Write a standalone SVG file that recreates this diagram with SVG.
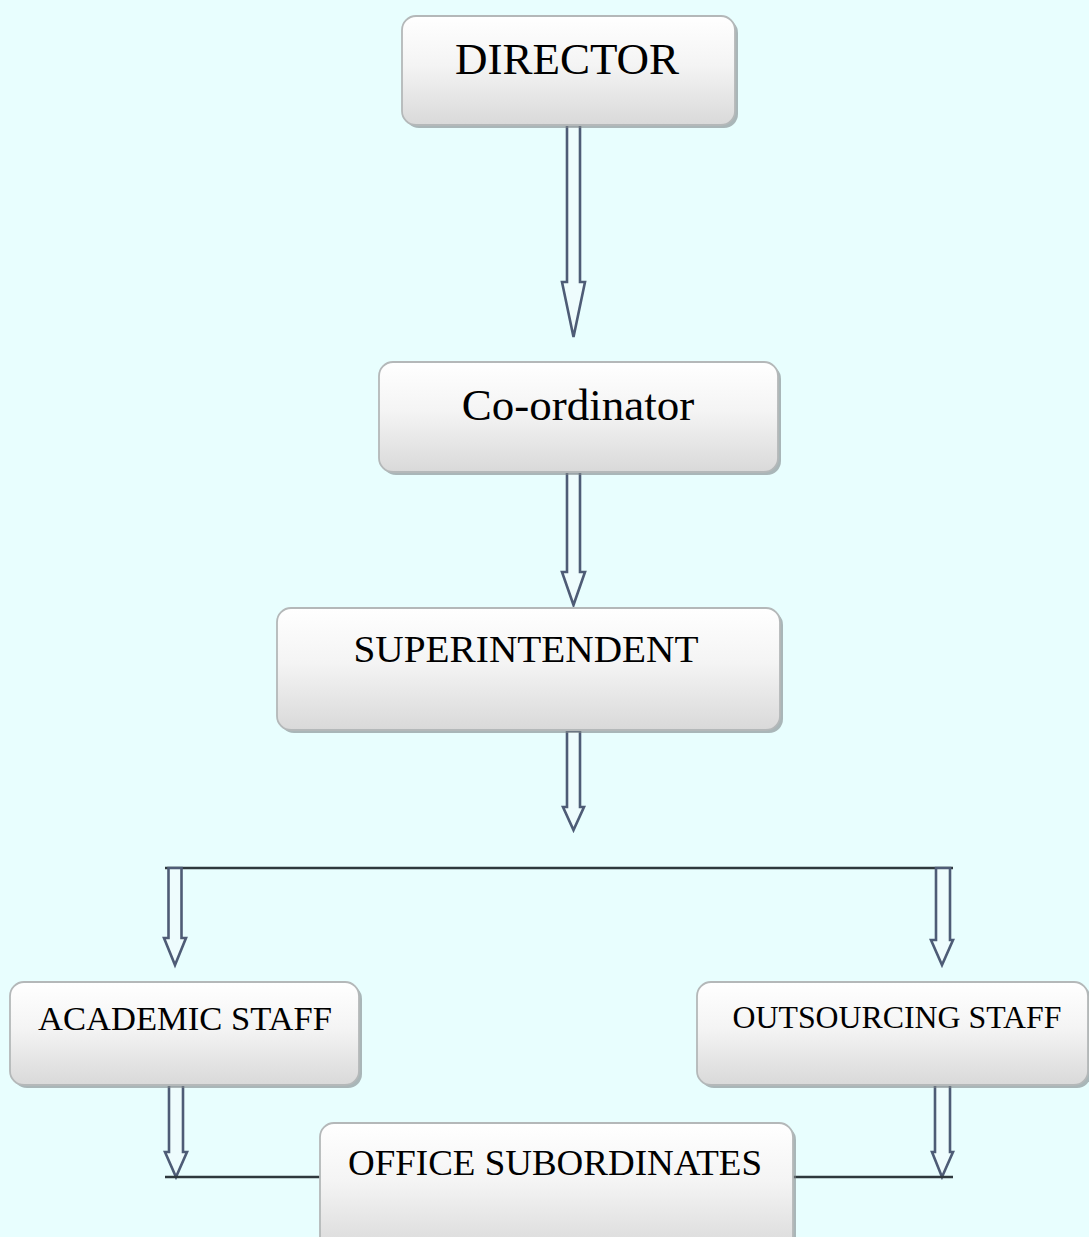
<svg xmlns="http://www.w3.org/2000/svg" width="1089" height="1237" viewBox="0 0 1089 1237">
<defs>
<linearGradient id="boxg" x1="0" y1="0" x2="0" y2="1">
<stop offset="0" stop-color="#ffffff"/>
<stop offset="0.45" stop-color="#f4f4f4"/>
<stop offset="1" stop-color="#d9d9d9"/>
</linearGradient>
<style>
.box{fill:url(#boxg);stroke:#b4b8b9;stroke-width:1.8}
.shadow{fill:#7f8688;opacity:0.6}
.lbl{font-family:"Liberation Serif","Times New Roman",serif;fill:#000;text-anchor:middle}
.arr{fill:#eefcfd;stroke:#4e5c76;stroke-width:2.6;stroke-linejoin:miter}
.ln{stroke:#2e383d;stroke-width:2.5;fill:none}
</style>
</defs>
<rect width="1089" height="1237" fill="#e8fefe"/>
<g id="connectors">
<polygon class="arr" points="567,125 580,125 580,282 585,282 573.5,337 562,282 567,282"/>
<polygon class="arr" points="567,472 580,472 580,572 585,572 573.5,605 562,572 567,572"/>
<polygon class="arr" points="567,731 580,731 580,807 584,807 573.5,830 563,807 567,807"/>
<line class="ln" x1="165" y1="868" x2="953" y2="868"/>
<polygon class="arr" points="168.5,868 181.5,868 181.5,938 186,938 175,965 164,938 168.5,938"/>
<polygon class="arr" points="936,868 950,868 950,940 953,940 942,965 931,940 936,940"/>
<polygon class="arr" points="169,1085 183,1085 183,1152 187,1152 176,1177 165,1152 169,1152"/>
<polygon class="arr" points="935,1085 950,1085 950,1152 953,1152 942,1177 932,1152 935,1152"/>
<line class="ln" x1="165" y1="1177" x2="322" y2="1177"/>
<line class="ln" x1="791" y1="1177" x2="953" y2="1177"/>
</g>
<g id="director">
<rect class="shadow" x="405" y="19" width="333" height="109" rx="14"/>
<rect class="box" x="402" y="16" width="333" height="109" rx="14"/>
<text class="lbl" x="567" y="74" font-size="45">DIRECTOR</text>
</g>
<g id="coordinator">
<rect class="shadow" x="382" y="365" width="399" height="110" rx="14"/>
<rect class="box" x="379" y="362" width="399" height="110" rx="14"/>
<text class="lbl" x="578" y="420" font-size="45">Co-ordinator</text>
</g>
<g id="superintendent">
<rect class="shadow" x="280" y="611" width="503" height="122" rx="14"/>
<rect class="box" x="277" y="608" width="503" height="122" rx="14"/>
<text class="lbl" x="526" y="662" font-size="38" textLength="345" lengthAdjust="spacingAndGlyphs">SUPERINTENDENT</text>
</g>
<g id="academic">
<rect class="shadow" x="13" y="985" width="349" height="103" rx="14"/>
<rect class="box" x="10" y="982" width="349" height="103" rx="14"/>
<text class="lbl" x="185" y="1030" font-size="34" textLength="294" lengthAdjust="spacingAndGlyphs">ACADEMIC STAFF</text>
</g>
<g id="outsourcing">
<rect class="shadow" x="700" y="985" width="391" height="103" rx="14"/>
<rect class="box" x="697" y="982" width="391" height="103" rx="14"/>
<text class="lbl" x="897" y="1028" font-size="32" textLength="329" lengthAdjust="spacingAndGlyphs">OUTSOURCING STAFF</text>
</g>
<g id="office">
<rect class="shadow" x="323" y="1126" width="473" height="130" rx="14"/>
<rect class="box" x="320" y="1123" width="473" height="130" rx="14"/>
<text class="lbl" x="555" y="1175" font-size="36" textLength="414" lengthAdjust="spacingAndGlyphs">OFFICE SUBORDINATES</text>
</g>
</svg>
